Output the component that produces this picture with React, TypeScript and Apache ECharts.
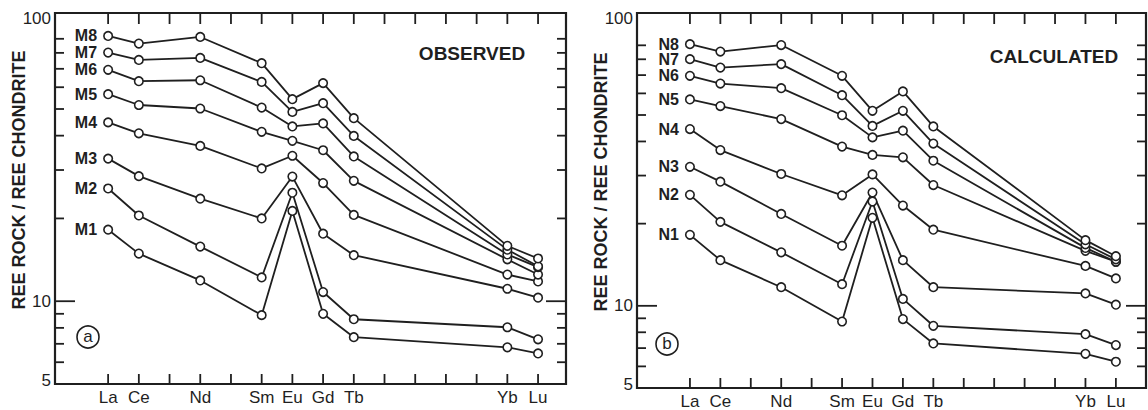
import React, { useEffect, useRef } from "react";
import * as echarts from "echarts";

// Rare-earth elements (by atomic number) on the x axis
const elements = ["La", "Ce", "Nd", "Sm", "Eu", "Gd", "Tb", "Yb", "Lu"];
const atomicNumbers = [57, 58, 60, 62, 63, 64, 65, 70, 71];
const xTickValues = [57, 58, 59, 60, 61, 62, 63, 64, 65, 66, 67, 68, 69, 70, 71];
const yTickValues = [6, 7, 8, 9, 10, 20, 30, 40, 50, 60, 70, 80, 90];
const yTickLabels = ["5", "10", "100"];
const yTickLabelValues = [5, 10, 100];

// (a) OBSERVED
const observedNames = ["M1", "M2", "M3", "M4", "M5", "M6", "M7", "M8"];
const M1 = [18.2, 14.9, 11.9, 8.9, 21.3, 9.0, 7.4, 6.8, 6.46];
const M2 = [25.7, 20.5, 15.8, 12.2, 24.8, 10.8, 8.6, 8.04, 7.27];
const M3 = [33.0, 28.5, 23.6, 20.0, 28.4, 17.6, 14.7, 11.1, 10.3];
const M4 = [44.7, 40.8, 36.7, 30.4, 33.8, 26.9, 20.6, 12.5, 11.8];
const M5 = [56.6, 51.7, 50.2, 41.3, 38.3, 35.4, 27.4, 14.2, 12.5];
const M6 = [69.4, 63.1, 63.6, 50.6, 43.2, 44.3, 33.6, 14.8, 13.3];
const M7 = [80.2, 75.4, 76.7, 62.7, 48.8, 52.5, 39.9, 15.4, 13.4];
const M8 = [92.2, 86.5, 91.4, 73.4, 54.3, 62.1, 46.3, 15.9, 14.3];
const observed = [M1, M2, M3, M4, M5, M6, M7, M8];

// (b) CALCULATED
const calculatedNames = ["N1", "N2", "N3", "N4", "N5", "N6", "N7", "N8"];
const N1 = [18.2, 14.7, 11.7, 8.76, 21.0, 8.94, 7.28, 6.67, 6.24];
const N2 = [25.5, 20.3, 15.7, 12.0, 24.1, 10.6, 8.45, 7.87, 7.18];
const N3 = [32.3, 28.5, 21.7, 16.6, 26.0, 14.7, 11.7, 11.1, 10.1];
const N4 = [44.4, 37.2, 30.4, 25.4, 30.3, 23.3, 19.0, 14.0, 12.6];
const N5 = [57.0, 53.9, 48.3, 38.3, 35.7, 35.0, 27.7, 15.9, 14.5];
const N6 = [69.6, 65.2, 62.7, 49.9, 41.4, 43.8, 34.0, 16.3, 14.5];
const N7 = [80.1, 74.6, 76.8, 59.1, 45.6, 51.8, 39.3, 16.8, 14.8];
const N8 = [90.9, 85.4, 90.2, 69.6, 51.8, 61.0, 45.4, 17.4, 15.2];
const calculated = [N1, N2, N3, N4, N5, N6, N7, N8];

const FONT = '"Liberation Sans", Arial, Helvetica, sans-serif';
const INK = "#1f1f1f";

const panels = [
  {
    grid: { left: 55, top: 13, width: 511, height: 371 },
    xMin: 55.27, xMax: 71.91, yMin: 5, yMax: 111.7,
    names: observedNames, series: observed,
  },
  {
    grid: { left: 637, top: 13, width: 509, height: 375 },
    xMin: 55.26, xMax: 71.99, yMin: 5, yMax: 118.2,
    names: calculatedNames, series: calculated,
  },
];

function textStyle(text: string, font: string, align: string) {
  return {
    text, font, fill: INK,
    align, verticalAlign: "middle",
    textAlign: align, textVerticalAlign: "middle",
  };
}

function buildOption() {
  const grids: any[] = [];
  const xAxes: any[] = [];
  const yAxes: any[] = [];
  const series: any[] = [];

  panels.forEach((p, i) => {
    grids.push({
      ...p.grid,
      show: true,
      borderColor: INK,
      borderWidth: 2.2,
      backgroundColor: "transparent",
    });
    xAxes.push({
      type: "value", gridIndex: i, min: p.xMin, max: p.xMax,
      axisLine: { show: false }, axisTick: { show: false },
      axisLabel: { show: false }, splitLine: { show: false },
    });
    yAxes.push({
      type: "log", logBase: 10, gridIndex: i, min: p.yMin, max: p.yMax,
      axisLine: { show: false }, axisTick: { show: false },
      axisLabel: { show: false }, splitLine: { show: false },
    });

    // x ticks (top and bottom, inward) with element labels
    series.push({
      type: "custom", xAxisIndex: i, yAxisIndex: i, clip: false, silent: true, z: 5,
      data: xTickValues.map((v) => [v, p.yMin]),
      renderItem: (params: any, api: any) => {
        const cs = params.coordSys;
        const xv = api.value(0);
        const px = api.coord([xv, p.yMin])[0];
        const bottom = cs.y + cs.height;
        const children: any[] = [
          { type: "line", shape: { x1: px, y1: bottom, x2: px, y2: bottom - 10 }, style: { stroke: INK, lineWidth: 1.8 } },
          { type: "line", shape: { x1: px, y1: cs.y, x2: px, y2: cs.y + 11 }, style: { stroke: INK, lineWidth: 1.8 } },
        ];
        const idx = atomicNumbers.indexOf(xv);
        if (idx >= 0) {
          children.push({
            type: "text", x: px, y: bottom + 13,
            style: textStyle(elements[idx], `17px ${FONT}`, "center"),
          });
        }
        return { type: "group", children };
      },
    });

    // y ticks (left and right, inward)
    series.push({
      type: "custom", xAxisIndex: i, yAxisIndex: i, clip: false, silent: true, z: 5,
      data: yTickValues.map((v) => [p.xMin, v]),
      renderItem: (params: any, api: any) => {
        const cs = params.coordSys;
        const yv = api.value(1);
        const py = api.coord([p.xMin, yv])[1];
        const len = yv === 10 ? 20 : 9;
        return {
          type: "group",
          children: [
            { type: "line", shape: { x1: cs.x, y1: py, x2: cs.x + len, y2: py }, style: { stroke: INK, lineWidth: 1.8 } },
            { type: "line", shape: { x1: cs.x + cs.width - len, y1: py, x2: cs.x + cs.width, y2: py }, style: { stroke: INK, lineWidth: 1.8 } },
          ],
        };
      },
    });

    // y tick labels
    series.push({
      type: "custom", xAxisIndex: i, yAxisIndex: i, clip: false, silent: true, z: 5,
      data: yTickLabelValues.map((v) => [p.xMin, v]),
      renderItem: (params: any, api: any) => {
        const cs = params.coordSys;
        const yv = api.value(1);
        let py = api.coord([p.xMin, yv])[1];
        if (yv >= 100) py = cs.y + 5; // "100" printed at the frame top
        if (yv <= 5) py = cs.y + cs.height - 4;
        return {
          type: "text", x: cs.x - 4, y: py,
          style: textStyle(yTickLabels[params.dataIndex], `17px ${FONT}`, "right"),
        };
      },
    });

    // data lines
    p.series.forEach((vals, k) => {
      const name = p.names[k];
      series.push({
        type: "line", name, xAxisIndex: i, yAxisIndex: i, z: 10,
        data: vals.map((v, j) => [atomicNumbers[j], v]),
        symbol: "circle", symbolSize: 8.5,
        lineStyle: { color: INK, width: 1.8 },
        itemStyle: { color: "#ffffff", borderColor: INK, borderWidth: 1.6 },
        label: {
          show: true, position: "left", distance: 6,
          formatter: (prm: any) => (prm.dataIndex === 0 ? name : ""),
          fontFamily: FONT, fontSize: 16, fontWeight: "bold", color: INK,
        },
        emphasis: { disabled: true },
      });
    });
  });

  const graphic: any[] = [
    { type: "text", x: 19, y: 180, rotation: Math.PI / 2,
      style: textStyle("REE ROCK / REE CHONDRITE", `bold 18px ${FONT}`, "center") },
    { type: "text", x: 601, y: 182, rotation: Math.PI / 2,
      style: textStyle("REE ROCK / REE CHONDRITE", `bold 18px ${FONT}`, "center") },
    { type: "text", x: 472, y: 53,
      style: textStyle("OBSERVED", `bold 19px ${FONT}`, "center") },
    { type: "text", x: 1054, y: 56,
      style: textStyle("CALCULATED", `bold 19px ${FONT}`, "center") },
    { type: "circle", shape: { cx: 88, cy: 337, r: 11 }, style: { fill: "none", stroke: INK, lineWidth: 1.6 } },
    { type: "text", x: 88, y: 336, style: textStyle("a", `17px ${FONT}`, "center") },
    { type: "circle", shape: { cx: 667, cy: 344, r: 11 }, style: { fill: "none", stroke: INK, lineWidth: 1.6 } },
    { type: "text", x: 667, y: 343, style: textStyle("b", `17px ${FONT}`, "center") },
  ];

  return {
    animation: false,
    backgroundColor: "#ffffff",
    grid: grids,
    xAxis: xAxes,
    yAxis: yAxes,
    series,
    graphic,
  };
}

export default function App() {
  const ref = useRef<HTMLDivElement>(null);
  useEffect(() => {
    if (!ref.current) return;
    const chart = echarts.init(ref.current, undefined, { renderer: "svg" });
    chart.setOption(buildOption());
    return () => chart.dispose();
  }, []);
  return (
    <div
      ref={ref}
      style={{ position: "absolute", left: 0, top: 0, width: 1148, height: 410, background: "#fff" }}
    />
  );
}
